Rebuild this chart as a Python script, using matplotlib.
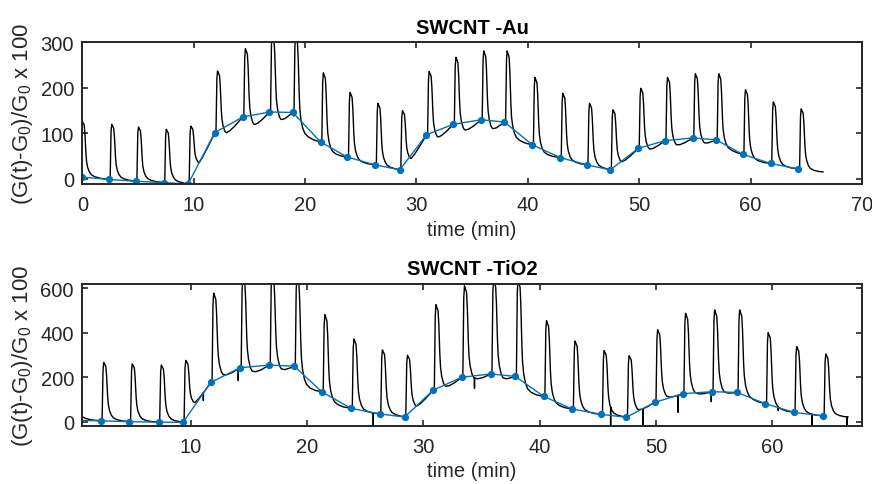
import numpy as np
import matplotlib
matplotlib.use("Agg")
import matplotlib.pyplot as plt

# ---------------- data ----------------
# Panel 1: SWCNT -Au  (blue sample points = baseline just before each pulse)
au_t = [0, 2.4, 4.8, 7.3, 9.5, 11.9, 14.4, 16.8, 18.9, 21.4, 23.8, 26.3, 28.5, 30.9,
        33.3, 35.8, 37.9, 40.4, 42.9, 45.3, 47.4, 49.9, 52.3, 54.8, 56.9, 59.3, 61.8, 64.3]
au_base = [4, -1, -5, -8, -11, 102, 136, 147, 146, 81, 48, 31, 20, 97,
           120, 130, 125, 75, 47, 31, 20, 67, 84, 90, 86, 54, 34, 22]
au_onset = [-0.25, 2.4, 4.8, 7.3, 9.5, 11.9, 14.4, 16.8, 18.9, 21.4, 23.8, 26.3, 28.5, 30.9,
            33.3, 35.8, 37.9, 40.4, 42.9, 45.3, 47.4, 49.9, 52.3, 54.8, 56.9, 59.3, 61.8, 64.3]
au_peak = [127, 120, 114, 109, 116, 237, 286, 315, 312, 233, 190, 166, 150, 236,
           267, 281, 281, 223, 188, 166, 152, 199, 223, 231, 231, 196, 169, 154]
au_trough = [2, -3, -6, -9, 28, 90, 106, 116, 88, 50, 33, 22, 35, 80,
             95, 97, 80, 49, 33, 22, 28, 55, 64, 68, 60, 36, 24, 15]
au_end = (66.5, 15)

# Panel 2: SWCNT -TiO2
ti_t = [0, 2.3, 4.75, 7.25, 9.35, 11.75, 14.25, 16.75, 18.9, 21.3, 23.8, 26.25, 28.4, 30.85,
        33.3, 35.8, 37.9, 40.35, 42.8, 45.3, 47.45, 49.9, 52.3, 54.8, 56.95, 59.4, 61.85, 64.35]
ti_base = [6, 4, 0, -2, -3, 177, 243, 255, 250, 134, 60, 35, 21, 142,
           200, 215, 204, 114, 57, 33, 20, 87, 126, 135, 132, 81, 42, 26]
ti_onset = [-0.4, 2.3, 4.75, 7.25, 9.35, 11.75, 14.25, 16.75, 18.9, 21.3, 23.8, 26.25, 28.4, 30.85,
            33.3, 35.8, 37.9, 40.35, 42.8, 45.3, 47.45, 49.9, 52.3, 54.8, 56.95, 59.4, 61.85, 64.35]
ti_peak = [270, 267, 260, 255, 276, 579, 650, 660, 650, 482, 372, 323, 299, 527,
           612, 640, 640, 455, 363, 320, 297, 414, 488, 503, 503, 401, 338, 305]
ti_trough = [8, 2, -1, -2, 68, 185, 197, 207, 138, 66, 38, 24, 50, 132,
             168, 166, 118, 62, 36, 22, 35, 92, 107, 110, 92, 48, 28, 20]
ti_end = (66.5, 20)
ti_glitch_t = [11.1, 14.1, 25.7, 34.4, 46.1, 48.9, 51.9, 54.75, 60.5, 63.4, 66.4]
ti_glitch_low = [95, 185, -30, 150, -30, -30, 42, 90, 50, -30, -30]

# common pulse shape (fraction of pulse height vs minutes after onset)
shape_tau = [0, 0.10, 0.17, 0.24, 0.32, 0.42, 0.48, 0.55, 0.62, 0.72, 0.87, 1.05, 1.35, 1.80, 2.5]
shape_g = [0, 0.02, 0.85, 1.00, 0.97, 0.93, 0.80, 0.50, 0.30, 0.19, 0.11, 0.06, 0.03, 0.01, 0]
TROUGH_TAU = 0.95


def build_trace(onset, base, peak, trough, end, t0):
    t_end, v_end = end
    t = np.arange(t0, t_end + 1e-9, 0.005)
    nxt_t = list(onset[1:]) + [t_end]
    nxt_b = list(base[1:]) + [v_end]
    v = np.empty_like(t)
    idx = np.searchsorted(onset, t, side='right') - 1
    for k in range(len(onset)):
        m = idx == k
        tau = t[m] - onset[k]
        Lx = [0, 0.5, TROUGH_TAU, nxt_t[k] - onset[k]]
        Ly = [base[k], trough[k], trough[k], nxt_b[k]]
        L = np.interp(tau, Lx, Ly)
        g = np.interp(tau, shape_tau, shape_g)
        v[m] = L + (peak[k] - L) * g
    return t, v


def add_glitches(t, v, gt, gl):
    for tg, lo in zip(gt, gl):
        i = np.searchsorted(t, tg)
        vv = np.interp(tg, t, v)
        t = np.insert(t, i, [tg, tg, tg])
        v = np.insert(v, i, [vv, lo, vv])
    return t, v


# ---------------- figure ----------------
plt.rcParams['font.family'] = ['Liberation Sans', 'DejaVu Sans']
plt.rcParams['mathtext.fontset'] = 'custom'
plt.rcParams['mathtext.rm'] = 'Liberation Sans'

BLUE = '#0072BD'
GREY = '#262626'
FS = 14.5

fig = plt.figure(figsize=(8.72, 4.85), dpi=100)
ax1 = fig.add_axes([0.0944, 0.6186, 0.8941, 0.2921])
ax2 = fig.add_axes([0.0944, 0.1202, 0.8941, 0.2922])

ylab = r'(G(t)-G$\mathregular{_0}$)/G$\mathregular{_0}$ x 100'


def style(ax):
    for s in ax.spines.values():
        s.set_linewidth(1.4)
        s.set_color(GREY)
    ax.tick_params(direction='in', length=4, width=1.2, top=True, right=True,
                   labelsize=FS, colors=GREY, pad=6)
    ax.tick_params(axis='x', pad=8)


# panel 1
t1, v1 = build_trace(au_onset, au_base, au_peak, au_trough, au_end, 0.0)
ax1.plot(t1, v1, color='black', lw=1.0)
ax1.plot(au_t, au_base, color=BLUE, lw=1.0, marker='o', ms=4.2)
ax1.set_xlim(0, 70)
ax1.set_ylim(-11, 300)
ax1.set_xticks([0, 10, 20, 30, 40, 50, 60, 70])
ax1.set_yticks([0, 100, 200, 300])
style(ax1)
ax1.set_title('SWCNT -Au', fontweight='bold', fontsize=FS, pad=7)
ax1.set_xlabel('time (min)', fontsize=FS, color=GREY, labelpad=4)
ax1.set_ylabel(ylab, fontsize=16, color=GREY, labelpad=4)

# panel 2
t2, v2 = build_trace(ti_onset, ti_base, ti_peak, ti_trough, ti_end, 0.0)
t2, v2 = add_glitches(t2, v2, ti_glitch_t, ti_glitch_low)
ax2.plot(t2, v2, color='black', lw=1.0)
ax2.plot(ti_t, ti_base, color=BLUE, lw=1.0, marker='o', ms=4.2)
ax2.set_xlim(0.7, 67.7)
ax2.set_ylim(-18, 620)
ax2.set_xticks([10, 20, 30, 40, 50, 60])
ax2.set_yticks([0, 200, 400, 600])
style(ax2)
ax2.set_title('SWCNT -TiO2', fontweight='bold', fontsize=FS, pad=7)
ax2.set_xlabel('time (min)', fontsize=FS, color=GREY, labelpad=4)
ax2.set_ylabel(ylab, fontsize=16, color=GREY, labelpad=4)

fig.savefig('out.png', dpi=100)
